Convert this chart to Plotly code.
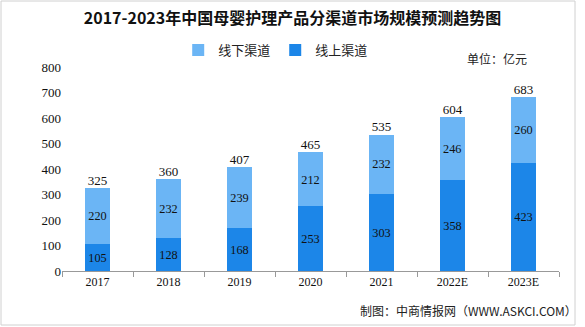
import plotly.graph_objects as go

years = ["2017", "2018", "2019", "2020", "2021", "2022E", "2023E"]
online = [105, 128, 168, 253, 303, 358, 423]
offline = [220, 232, 239, 212, 232, 246, 260]
totals = [325, 360, 407, 465, 535, 604, 683]

num_font = "Liberation Serif"
cjk_font = "Noto Sans CJK SC"

fig = go.Figure()
fig.add_trace(go.Bar(
    x=years, y=online, name="线上渠道", marker_color="#1C86E8", marker_line_width=0,
    text=online, textposition="inside", insidetextanchor="middle", textangle=0,
    textfont=dict(family=num_font, size=13, color="#111111"),
))
fig.add_trace(go.Bar(
    x=years, y=offline, name="线下渠道", marker_color="#6BB5F5", marker_line_width=0,
    text=offline, textposition="inside", insidetextanchor="middle", textangle=0,
    textfont=dict(family=num_font, size=13, color="#111111"),
))
fig.add_trace(go.Scatter(
    x=years, y=totals, mode="text", text=totals, textposition="top center",
    textfont=dict(family=num_font, size=13, color="#111111"),
    showlegend=False, hoverinfo="skip",
))

fig.update_layout(
    width=585, height=327,
    margin=dict(l=62, r=26, t=67, b=56),
    paper_bgcolor="white", plot_bgcolor="white",
    barmode="stack", bargap=0.65,
    uniformtext=dict(minsize=8, mode="show"),
    title=dict(
        text="<b>2017-2023年中国母婴护理产品分渠道市场规模预测趋势图</b>",
        x=0.5, xanchor="center", y=0.945, yanchor="middle",
        font=dict(family=cjk_font, size=16, color="#111111"),
    ),
    legend=dict(
        orientation="h", x=0.43, xanchor="center", y=1.083, yanchor="middle",
        traceorder="reversed",
        font=dict(family=cjk_font, size=13, color="#222222"),
        itemwidth=30,
    ),
    xaxis=dict(
        showline=True, linecolor="#999999", linewidth=1,
        ticks="outside", tickson="boundaries", ticklen=5, tickcolor="#999999",
        tickfont=dict(family=num_font, size=12, color="#111111"),
        showgrid=False,
    ),
    yaxis=dict(
        range=[0, 800], dtick=100, showgrid=False, showline=False,
        zeroline=False, ticks="",
        tickfont=dict(family=num_font, size=13, color="#111111"),
    ),
    annotations=[
        dict(text="单位：亿元", xref="paper", yref="paper",
             x=0.875, y=1.044, xanchor="center", yanchor="middle",
             showarrow=False, font=dict(family=cjk_font, size=12, color="#222222")),
        dict(text="制图：中商情报网（WWW.ASKCI.COM）", xref="paper", yref="paper",
             x=1.04, y=-0.196, xanchor="right", yanchor="middle",
             showarrow=False, font=dict(family=cjk_font, size=12, color="#222222")),
    ],
    shapes=[
        dict(type="rect", xref="paper", yref="paper",
             x0=(1 - 62) / 497, x1=(575 - 62) / 497,
             y0=(271 - 325) / 204, y1=(271 - 1) / 204,
             line=dict(color="#D0D0D0", width=1), fillcolor="rgba(0,0,0,0)",
             layer="below"),
    ],
)

fig.write_html("out.html")
